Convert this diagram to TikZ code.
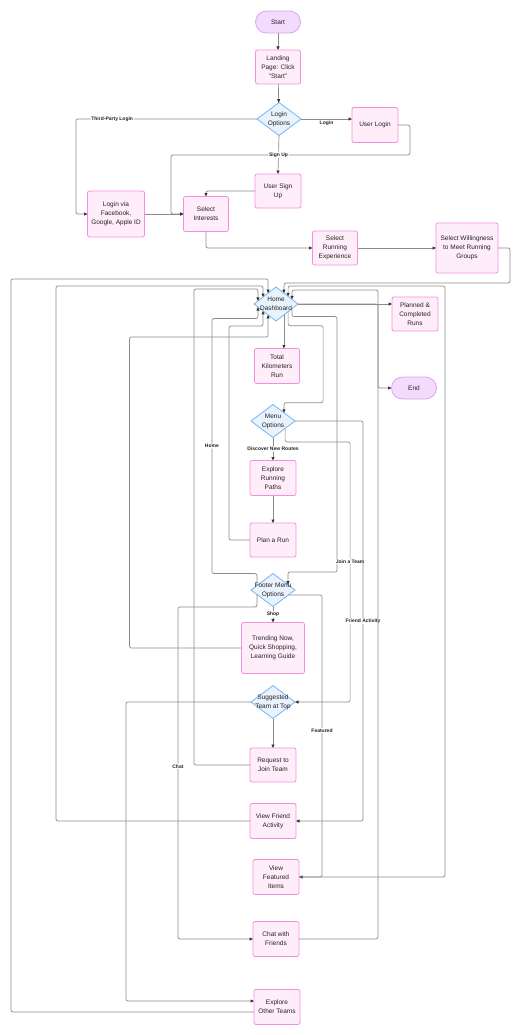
\documentclass[tikz,border=0pt]{standalone}
\usepackage{fontspec}
\setmainfont{Liberation Sans}
\usetikzlibrary{shapes.geometric,arrows.meta,calc}
\definecolor{procfill}{HTML}{FFEEFA}
\definecolor{procdraw}{HTML}{F48FDD}
\definecolor{diafill}{HTML}{E9F3FE}
\definecolor{diadraw}{HTML}{74B4F5}
\definecolor{termfill}{HTML}{F2DBFC}
\definecolor{termdraw}{HTML}{DDA2F0}
\definecolor{linec}{HTML}{8C8C8C}
\definecolor{arrowc}{HTML}{333333}
\definecolor{txt}{HTML}{222222}
\begin{document}
\begin{tikzpicture}[x=1pt,y=-1pt,
  proc/.style={draw=procdraw, fill=procfill, rounded corners=2pt, line width=0.8pt,
    minimum width=46pt, minimum height=35pt, inner sep=0pt, outer sep=0pt,
    align=center, font=\fontsize{6.5}{9}\selectfont, text=txt},
  term/.style={draw=termdraw, fill=termfill, rounded corners=11pt, line width=0.8pt,
    minimum width=45pt, minimum height=22pt, inner sep=0pt, outer sep=0pt,
    align=center, font=\fontsize{6.5}{9}\selectfont, text=txt},
  dia/.style={diamond, draw=diadraw, fill=diafill, line width=0.8pt,
    minimum width=44pt, minimum height=33pt, inner sep=0pt, outer sep=0pt},
  dtext/.style={align=center, font=\fontsize{6.5}{9}\selectfont, text=txt, inner sep=0pt},
  edge/.style={draw=linec, line width=0.7pt, rounded corners=2pt,
    -{Triangle[length=3.5pt,width=3pt,color=arrowc]}},
  elabel/.style={font=\fontsize{5}{6}\selectfont\bfseries, text=txt, fill=white, inner sep=0.8pt}
]
\useasboundingbox (0,0) rectangle (522,1035);

% ---- nodes ----
\node[term] (start) at (278,22) {Start};
\node[proc, minimum width=45pt, minimum height=34pt] (landing) at (278,67) {Landing\\Page: Click\\"Start"};
\node[dia, label={[dtext]center:{Login\\Options}}] (login) at (279,119) {};
\node[proc] (ulogin) at (375,125) {User Login};
\node[proc, minimum height=34pt] (usignup) at (278,191) {User Sign\\Up};
\node[proc, minimum width=57pt, minimum height=46pt] (fb) at (116,214) {Login via\\Facebook,\\Google, Apple ID};
\node[proc, minimum width=45pt] (interests) at (206,214) {Select\\Interests};
\node[proc, minimum width=45pt, minimum height=34pt] (exper) at (335,248) {Select\\Running\\Experience};
\node[proc, minimum width=62pt, minimum height=50pt] (will) at (467,248) {Select Willingness\\to Meet Running\\Groups};
\node[dia, minimum height=34pt, label={[dtext]center:{Home\\Dashboard}}] (home) at (276,304) {};
\node[proc, minimum height=34pt] (planned) at (415,314) {Planned \&\\Completed\\Runs};
\node[proc, minimum width=45pt] (totalkm) at (277,366) {Total\\Kilometers\\Run};
\node[term] (end) at (414,388) {End};
\node[dia, label={[dtext]center:{Menu\\Options}}] (menu) at (273,421) {};
\node[proc] (explore) at (273,478) {Explore\\Running\\Paths};
\node[proc, minimum height=34pt] (plan) at (273,540) {Plan a Run};
\node[dia, label={[dtext]center:{Footer Menu\\Options}}] (footer) at (273,590) {};
\node[proc, minimum width=63pt, minimum height=51pt] (trending) at (273,648) {Trending Now,\\Quick Shopping,\\Learning Guide};
\node[dia, label={[dtext]center:{Suggested\\Team at Top}}] (suggested) at (273,702) {};
\node[proc, minimum height=34pt] (request) at (273,765) {Request to\\Join Team};
\node[proc] (friend) at (273,821) {View Friend\\Activity};
\node[proc] (featured) at (276,877) {View\\Featured\\Items};
\node[proc] (chat) at (276,939) {Chat with\\Friends};
\node[proc] (other) at (277,1007) {Explore\\Other Teams};

% ---- points on diamond edges ----
\coordinate (hUL1) at ($(home.west)!0.18!(home.north)$);
\coordinate (hUL2) at ($(home.west)!0.41!(home.north)$);
\coordinate (hUL3) at ($(home.west)!0.64!(home.north)$);
\coordinate (hUR1) at ($(home.north)!0.36!(home.east)$);
\coordinate (hUR2) at ($(home.north)!0.55!(home.east)$);
\coordinate (hUR3) at ($(home.north)!0.73!(home.east)$);
\coordinate (hLL1) at ($(home.west)!0.18!(home.south)$);
\coordinate (hLL2) at ($(home.west)!0.41!(home.south)$);
\coordinate (hLL3) at ($(home.west)!0.64!(home.south)$);
\coordinate (hLR1) at ($(home.south)!0.36!(home.east)$);
\coordinate (hLR2) at ($(home.south)!0.55!(home.east)$);
\coordinate (hLR3) at ($(home.south)!0.73!(home.east)$);
\coordinate (mUR) at ($(menu.north)!0.5!(menu.east)$);
\coordinate (mLR) at ($(menu.south)!0.55!(menu.east)$);
\coordinate (fUR) at ($(footer.north)!0.68!(footer.east)$);
\coordinate (fUL) at ($(footer.west)!0.27!(footer.north)$);
\coordinate (fLL) at ($(footer.west)!0.27!(footer.south)$);
\coordinate (fLR) at ($(footer.south)!0.7!(footer.east)$);

% ---- connectors ----
\draw[edge] (start) -- (landing);
\draw[edge] (landing) -- (login);
\draw[edge] (ulogin.east) -- ++(12,0) -- ++(0,30) -- (171,155) |- (interests.west);
\draw[edge] (login.west) -- node[elabel,pos=0.8]{Third-Party Login} ++(-181,0) |- (fb.west);
\draw[edge] (login.east) -- node[elabel,fill=none,yshift=-4.5pt]{Login} (ulogin.west |- login.east);
\draw[edge] (login.south) -- node[elabel]{Sign Up} (usignup.north);
\draw[edge] (fb.east) -- (interests.west);
\draw[edge] (usignup.west) -| (interests.north);
\draw[edge] (interests.south) |- (exper.west);
\draw[edge] (exper.east) -- (will.west);
\draw[edge] (will.east) -- ++(12,0) -- ++(0,35) -| (hUR1);

\draw[edge] (home.east) -- (planned.west |- home.east);
\draw[edge] (home.east) -- ++(80,0) |- (end.west);
\draw[edge] (hLR1) -- (hLR1 |- totalkm.north);
\draw[edge] (hLR2) |- ++(35,14) -- ++(0,77) -| (mUR);
\draw[edge] (hLR3) |- ++(45,8) -- ++(0,255.4) -| (fUR);

\draw[edge] (menu.south) -- node[elabel]{Discover New Routes} (explore.north);
\draw[edge] (explore) -- (plan);
\draw[edge] (plan.west) -| ++(-21,-214) -| (hLL2);
\draw[edge] (mLR) |- ++(65,13.5) |- node[elabel,pos=0.23]{Join a Team} (suggested.east);
\draw[edge] (menu.east) -- ++(68,0) |- node[elabel,pos=0.25]{Friend Activity} (friend.east);

\draw[edge] (fUL) |- ++(-45,-12) -- node[elabel]{Home} ++(0,-255) -| (hLL1);
\draw[edge] (footer.south) -- node[elabel]{Shop} (trending.north);
\draw[edge] (fLR) -- ++(33.6,0) |- node[elabel,pos=0.24]{Featured} (featured.east);
\draw[edge] (fLL) |- ++(-79,12.5) |- node[elabel,pos=0.24]{Chat} (chat.west);

\draw[edge] (trending.west) -- ++(-112,0) -- ++(0,-311) -| (hLL3);
\draw[edge] (suggested) -- (request);
\draw[edge] (suggested.west) -- ++(-125,0) |- ([yshift=6pt]other.west);
\draw[edge] (request.west) -- ++(-56,0) -- ++(0,-476) -| (hUL1);
\draw[edge] (friend.west) -- ++(-194,0) -- ++(0,-535) -| (hUL2);
\draw[edge] (featured.east) -- ++(146,0) -- ++(0,-591) -| (hUR2);
\draw[edge] (chat.east) -- ++(79,0) -- ++(0,-649) -| (hUR3);
\draw[edge] ([yshift=-5pt]other.west) -- ++(-243,0) -- ++(0,-733) -| (hUL3);
\end{tikzpicture}
\end{document}
